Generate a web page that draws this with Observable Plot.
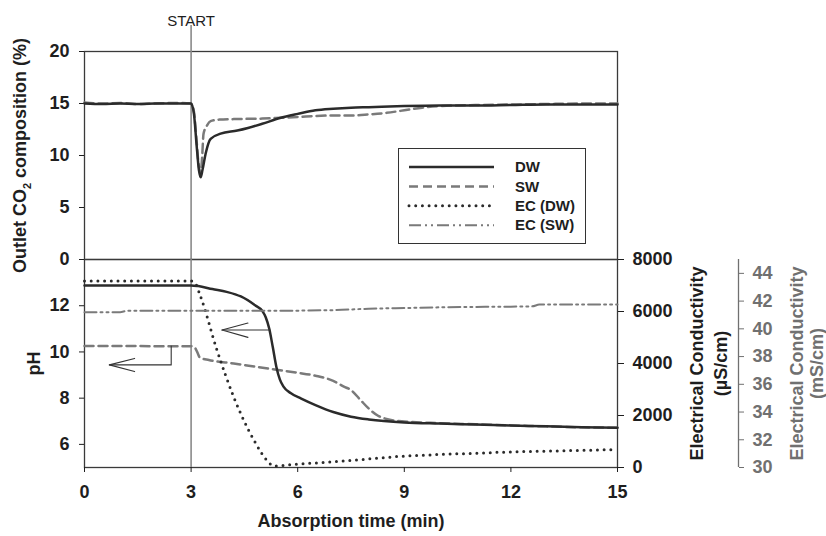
<!DOCTYPE html>
<html><head><meta charset="utf-8">
<script src="https://cdn.jsdelivr.net/npm/d3@7"></script>
<script src="https://cdn.jsdelivr.net/npm/@observablehq/plot@0.6"></script>
<style>
body{margin:0;background:#fff;font-family:"Liberation Sans",Arial,sans-serif;}
#wrap{position:relative;width:826px;height:536px;overflow:hidden;background:#fff}
#wrap > svg{position:absolute;left:0;top:0}
#legend{position:absolute;left:398px;top:148px;width:188px;height:96px;border:1.3px solid #333;background:#fff;box-sizing:border-box}
</style></head><body><div id="wrap"></div>
<script>
// ---------- data ----------
const startTime = 3;
const xTicks = [0, 3, 6, 9, 12, 15];
const co2Ticks = [0, 5, 10, 15, 20];
const phTicks = [6, 8, 10, 12];
const ecUSTicks = [0, 2000, 4000, 6000, 8000];
const ecMSTicks = [30, 32, 34, 36, 38, 40, 42, 44];

// Outlet CO2 composition (%)
const co2DWTime = [0,0.5,1,1.5,2,2.5,3.0,3.08,3.15,3.22,3.27,3.32,3.41,3.55,3.83,4.3,4.6,5.0,5.5,6.0,6.5,7.0,7.5,8.0,9.0,10,11,12,13,14,15];
const co2DW     = [15.0,14.95,15.0,14.95,15.0,15.0,15.0,14.0,11.2,8.6,7.9,8.6,10.2,11.6,12.1,12.4,12.65,13.05,13.6,14.0,14.35,14.5,14.6,14.65,14.75,14.8,14.8,14.85,14.9,14.9,14.9];
const co2SWTime = [0,0.5,1,1.5,2,2.5,3.0,3.08,3.15,3.22,3.27,3.31,3.35,3.45,3.55,3.8,4.2,5.0,5.5,6.0,6.5,7.0,7.5,8.0,8.5,9.0,9.5,10,11,12,13,14,15];
const co2SW     = [15.1,15.0,15.05,14.95,15.0,15.05,15.0,14.2,11.6,8.9,8.4,9.8,12.1,12.9,13.3,13.45,13.5,13.55,13.62,13.7,13.8,13.85,13.85,13.95,14.1,14.35,14.6,14.75,14.85,14.9,14.95,15.0,15.0];

// pH
const phDWTime = [0,1,2,3.0,3.2,3.6,4.0,4.4,4.8,5.0,5.1,5.2,5.3,5.4,5.5,5.6,5.8,6.1,6.5,7.0,7.5,8.0,9.0,10,11,12,13,14,15];
const phDW     = [12.88,12.88,12.88,12.88,12.85,12.72,12.6,12.4,12.02,11.78,11.5,11.0,10.2,9.35,8.8,8.5,8.22,7.98,7.7,7.4,7.2,7.08,6.95,6.9,6.86,6.82,6.78,6.74,6.72];
const phSWTime = [0,1,2,3.0,3.1,3.17,3.25,3.5,4.2,5.4,6.0,6.5,7.0,7.3,7.5,7.75,8.0,8.25,8.5,9.0,10,11,12,13,14,15];
const phSW     = [10.26,10.26,10.25,10.25,10.2,10.0,9.75,9.65,9.5,9.23,9.1,8.97,8.75,8.5,8.35,7.95,7.55,7.25,7.1,6.99,6.92,6.87,6.82,6.78,6.74,6.72];

// Electrical conductivity, DW (uS/cm)
const ecDWTime = [0,1,2,3.0,3.1,3.27,3.73,4.2,4.77,5.15,5.33,6,7,8,9,10,11,12,13,14,15];
const ecDW     = [7170,7170,7170,7170,7120,6560,4510,2710,1050,250,60,130,220,330,440,500,550,600,630,660,690];

// Electrical conductivity, SW (mS/cm)
const ecSWTime = [0,1,1.2,3,5,7,8,9,10,11,12,12.6,12.8,15];
const ecSW     = [41.2,41.2,41.3,41.3,41.3,41.35,41.45,41.5,41.55,41.58,41.6,41.62,41.75,41.75];

// annotation arrows (time, pH)
const arrowDWx = [5.22, 3.87]; const arrowDWy = [10.95, 10.95];
const arrowDWHeadX = [4.6, 3.87, 4.6]; const arrowDWHeadY = [11.25, 10.95, 10.63];
const arrowSWx = [2.44, 2.44, 0.7]; const arrowSWy = [10.25, 9.44, 9.44];
const arrowSWHeadX = [1.41, 0.7, 1.41]; const arrowSWHeadY = [9.72, 9.44, 9.15];

const legendLabels = ["DW", "SW", "EC (DW)", "EC (SW)"];

// ---------- styles ----------
const FONT = '"Liberation Sans", Arial, sans-serif';
const BLACK = "#1e1e1e", DARK = "#2b2b2b", GRAY = "#7a7a7a", AXGRAY = "#707070";
const sDW = {stroke: DARK, strokeWidth: 2.5};
const sSW = {stroke: GRAY, strokeWidth: 2.5, strokeDasharray: "9,5"};
const sECDW = {stroke: DARK, strokeWidth: 3, strokeDasharray: "0,6.7", strokeLinecap: "round"};
const sECSW = {stroke: GRAY, strokeWidth: 2, strokeDasharray: "12,4,2,4,2,4"};
const legendStyles = [sDW, sSW, sECDW, sECSW];

const zip = (xs, ys) => xs.map((x, i) => ({x, y: ys[i]}));
const W = 826, H = 536, mL = 84, mR = 209;
const base = {width: W, height: H, marginLeft: mL, marginRight: mR,
  style: {background: "transparent", fontFamily: FONT, color: BLACK, overflow: "visible"},
  x: {domain: [0, 15], axis: null}};
const bold = {fontSize: 18, fontWeight: "bold"};
const fmt = d => String(d);
const vtitle = {rotate: -90, textAnchor: "middle", ...bold};
const wrap = document.getElementById("wrap");

// ---------- top panel ----------
const yTitleTop = "Outlet CO2 composition (%)";
const topPlot = Plot.plot({...base, marginTop: 51, marginBottom: 277,
  y: {domain: [0, 20], axis: null},
  marks: [
    Plot.frame({stroke: "#3a3a3a", strokeWidth: 1.3}),
    Plot.ruleX([startTime], {stroke: "#8a8a8a", strokeWidth: 1.6, insetTop: -26}),
    Plot.text(["START"], {x: () => startTime, frameAnchor: "top", dy: -36, fontSize: 15, fill: BLACK}),
    Plot.axisY(co2Ticks, {anchor: "left", tickSize: 5, tickPadding: 10, tickFormat: fmt, label: null, color: BLACK, ...bold}),
    Plot.line(zip(co2SWTime, co2SW), {x: "x", y: "y", curve: "monotone-x", ...sSW}),
    Plot.line(zip(co2DWTime, co2DW), {x: "x", y: "y", curve: "monotone-x", ...sDW}),
    Plot.text([yTitleTop], {frameAnchor: "left", dx: -64, fill: BLACK, ...vtitle})
  ]});
wrap.appendChild(topPlot);
d3.select(topPlot).selectAll("text").filter(function(){ return this.textContent === yTitleTop; }).each(function(){
  const t = d3.select(this); t.text(null);
  t.append("tspan").text("Outlet CO");
  t.append("tspan").attr("font-size", "11px").attr("dy", 5).text("2");
  t.append("tspan").attr("dy", -5).text(" composition (%)");
});

// ---------- bottom panel: pH ----------
const bottomBase = {...base, marginTop: 259, marginBottom: 69};
const b1 = Plot.plot({...bottomBase,
  y: {domain: [5, 14], axis: null},
  marks: [
    Plot.frame({stroke: "#3a3a3a", strokeWidth: 1.3}),
    Plot.ruleX([startTime], {stroke: "#8a8a8a", strokeWidth: 1.6}),
    Plot.axisY(phTicks, {anchor: "left", tickSize: 5, tickPadding: 10, tickFormat: fmt, label: null, color: BLACK, ...bold}),
    Plot.axisX(xTicks, {anchor: "bottom", tickSize: 5, tickPadding: 13, tickFormat: fmt, label: null, color: BLACK, ...bold}),
    Plot.line(zip(phSWTime, phSW), {x: "x", y: "y", curve: "monotone-x", ...sSW}),
    Plot.line(zip(phDWTime, phDW), {x: "x", y: "y", curve: "monotone-x", ...sDW}),
    Plot.line(zip(arrowDWx, arrowDWy), {x: "x", y: "y", stroke: "#333", strokeWidth: 1.1}),
    Plot.line(zip(arrowDWHeadX, arrowDWHeadY), {x: "x", y: "y", stroke: "#333", strokeWidth: 1.1}),
    Plot.line(zip(arrowSWx, arrowSWy), {x: "x", y: "y", stroke: "#333", strokeWidth: 1.1}),
    Plot.line(zip(arrowSWHeadX, arrowSWHeadY), {x: "x", y: "y", stroke: "#333", strokeWidth: 1.1}),
    Plot.text(["pH"], {frameAnchor: "left", dx: -50, fill: BLACK, ...vtitle}),
    Plot.text(["Absorption time (min)"], {frameAnchor: "bottom", dy: 59, fill: BLACK, ...bold})
  ]});
wrap.appendChild(b1);

// ---------- bottom panel: EC DW (uS/cm) ----------
const b2 = Plot.plot({...bottomBase,
  y: {domain: [0, 8000], axis: null},
  marks: [
    Plot.axisY(ecUSTicks, {anchor: "right", tickSize: 6, tickPadding: 9, tickFormat: fmt, label: null, color: BLACK, ...bold}),
    Plot.line(zip(ecDWTime, ecDW), {x: "x", y: "y", curve: "monotone-x", ...sECDW}),
    Plot.text(["Electrical Conductivity"], {frameAnchor: "right", dx: 80, fill: BLACK, ...vtitle}),
    Plot.text(["(\u00b5S/cm)"], {frameAnchor: "right", dx: 104, fill: BLACK, ...vtitle})
  ]});
wrap.appendChild(b2);

// ---------- bottom panel: EC SW (mS/cm) ----------
const b3 = Plot.plot({...bottomBase,
  y: {domain: [30, 45], axis: null},
  marks: [
    Plot.ruleX([15], {y1: 30, y2: 45, dx: 121, stroke: AXGRAY, strokeWidth: 1.3}),
    Plot.axisY(ecMSTicks, {anchor: "right", dx: 121, tickSize: 5, tickPadding: 9, tickFormat: fmt, label: null, color: AXGRAY, ...bold}),
    Plot.line(zip(ecSWTime, ecSW), {x: "x", y: "y", curve: "monotone-x", ...sECSW}),
    Plot.text(["Electrical Conductivity"], {frameAnchor: "right", dx: 180, fill: AXGRAY, ...vtitle}),
    Plot.text(["(mS/cm)"], {frameAnchor: "right", dx: 200, fill: AXGRAY, ...vtitle})
  ]});
wrap.appendChild(b3);

// ---------- legend ----------
const leg = document.createElement("div");
leg.id = "legend";
wrap.appendChild(leg);
const ls = d3.select(leg).append("svg").attr("width", 186).attr("height", 94).style("font-family", FONT);
legendLabels.forEach((lab, i) => {
  const y = 18 + i * 19.4, st = legendStyles[i];
  ls.append("line").attr("x1", 10).attr("x2", 95).attr("y1", y).attr("y2", y)
    .attr("stroke", st.stroke).attr("stroke-width", st.strokeWidth)
    .attr("stroke-dasharray", st.strokeDasharray || null).attr("stroke-linecap", st.strokeLinecap || null);
  ls.append("text").attr("x", 116).attr("y", y).attr("dy", "0.35em").attr("font-size", 15)
    .attr("font-weight", "bold").attr("fill", BLACK).text(lab);
});
</script></body></html>
